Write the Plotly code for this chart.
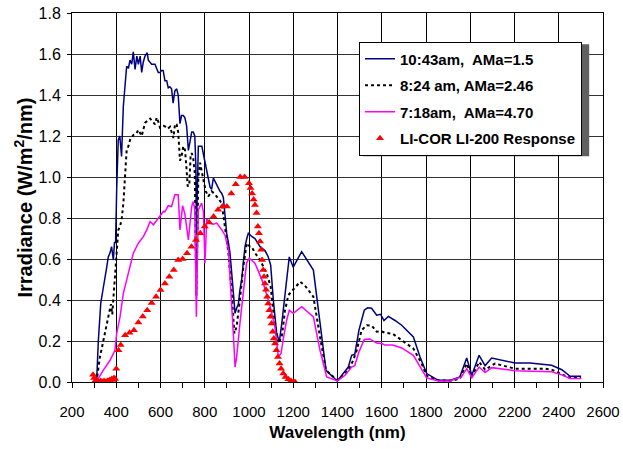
import plotly.graph_objects as go

# ---- data ----
wl_1043 = [305, 312, 319, 330, 340, 349, 357, 364, 372, 379, 387, 392, 397, 402, 409, 416, 424, 432, 440, 447,
           455, 462, 470, 477, 485, 493, 500, 508, 515, 522, 530, 540, 545, 560, 575, 590, 598, 605, 612, 620,
           628, 635, 642, 650, 657, 665, 673, 680, 688, 695, 703, 710, 718, 726, 733, 741, 748, 755, 760, 762,
           771, 779, 787, 796, 803, 809, 816, 824, 831, 839, 846, 854, 861, 869, 877, 884, 892, 899, 907, 914,
           922, 929, 937, 944, 952, 959, 967, 974, 982, 990, 997, 1005, 1012, 1027, 1050, 1073, 1087, 1098, 1110, 1125,
           1137, 1148, 1163, 1182, 1200, 1238, 1291, 1321, 1348, 1399, 1449, 1464, 1478, 1497, 1521, 1536, 1554, 1577, 1595, 1610,
           1630, 1660, 1690, 1743, 1773, 1803, 1856, 1908, 1953, 1984, 2007, 2040, 2067, 2097, 2202, 2270, 2368, 2414, 2451, 2501]
irr_1043 = [0.0, 0.02, 0.20, 0.385, 0.45, 0.50, 0.56, 0.61, 0.63, 0.66, 0.595, 0.68, 0.68, 0.94, 1.18, 1.20, 1.10, 1.345, 1.43, 1.54,
            1.53, 1.57, 1.55, 1.61, 1.525, 1.59, 1.55, 1.59, 1.51, 1.56, 1.59, 1.606, 1.57, 1.55, 1.55, 1.51, 1.51, 1.52, 1.52, 1.47,
            1.47, 1.435, 1.44, 1.43, 1.36, 1.42, 1.43, 1.40, 1.26, 1.30, 1.30, 1.29, 1.25, 1.13, 1.17, 1.22, 1.22, 1.20, 1.05, 0.72,
            1.15, 1.15, 1.15, 1.10, 1.06, 1.02, 0.98, 0.95, 0.94, 0.995, 0.98, 0.96, 0.95, 0.93, 0.92, 0.90, 0.81, 0.726, 0.68, 0.63,
            0.53, 0.43, 0.335, 0.36, 0.38, 0.45, 0.50, 0.58, 0.66, 0.70, 0.725, 0.718, 0.71, 0.70, 0.66, 0.64, 0.61, 0.57, 0.40, 0.237,
            0.196, 0.285, 0.43, 0.61, 0.56, 0.636, 0.546, 0.30, 0.057, 0.005, 0.073, 0.13, 0.135, 0.253, 0.35, 0.362, 0.36, 0.326, 0.33, 0.30,
            0.32, 0.30, 0.277, 0.22, 0.122, 0.041, 0.008, 0.008, 0.025, 0.117, 0.033, 0.13, 0.08, 0.117, 0.093, 0.093, 0.082, 0.06, 0.028, 0.028]

wl_0824 = [305, 312, 326, 341, 355, 364, 376, 382, 390, 397, 409, 417, 424, 432, 440, 447, 455, 462, 477, 490,
           500, 515, 530, 553, 575, 583, 590, 598, 613, 620, 632, 643, 658, 666, 673, 680, 688, 695, 703, 711,
           718, 723, 730, 736, 741, 748, 755, 762, 771, 779, 793, 805, 816, 831, 842, 854, 865, 877, 892, 907,
           922, 934, 944, 959, 974, 990, 1005, 1012, 1027, 1050, 1080, 1098, 1111, 1133, 1148, 1163, 1178, 1200, 1231, 1253,
           1291, 1321, 1348, 1399, 1449, 1471, 1487, 1509, 1532, 1555, 1577, 1598, 1615, 1650, 1690, 1743, 1780, 1803, 1856, 1908,
           1953, 1984, 2007, 2040, 2067, 2112, 2202, 2338, 2368, 2414, 2451, 2501]
irr_0824 = [0.0, 0.01, 0.12, 0.20, 0.27, 0.32, 0.38, 0.33, 0.45, 0.53, 0.74, 0.76, 0.79, 0.87, 1.00, 1.13, 1.15, 1.18, 1.205, 1.21,
            1.23, 1.20, 1.264, 1.285, 1.257, 1.29, 1.27, 1.24, 1.25, 1.247, 1.235, 1.245, 1.19, 1.26, 1.256, 1.22, 1.08, 1.10, 1.15, 1.13,
            1.035, 0.954, 0.96, 1.10, 1.117, 1.09, 1.02, 0.42, 1.00, 1.07, 0.99, 0.93, 0.905, 0.93, 0.92, 0.905, 0.89, 0.87, 0.76, 0.63,
            0.43, 0.237, 0.27, 0.40, 0.56, 0.677, 0.66, 0.66, 0.63, 0.595, 0.53, 0.465, 0.334, 0.188, 0.22, 0.35, 0.424, 0.449, 0.489, 0.47,
            0.416, 0.22, 0.057, 0.008, 0.057, 0.106, 0.155, 0.253, 0.277, 0.275, 0.245, 0.247, 0.24, 0.235, 0.204, 0.163, 0.09, 0.03, 0.008, 0.006,
            0.015, 0.09, 0.025, 0.098, 0.06, 0.09, 0.065, 0.065, 0.06, 0.04, 0.02, 0.02]

wl_0718 = [305, 315, 341, 372, 394, 402, 417, 432, 447, 462, 477, 500, 523, 538, 553, 568, 583, 598, 613, 620,
           635, 650, 665, 673, 680, 688, 700, 710, 726, 741, 748, 755, 762, 771, 786, 794, 801, 809, 824, 839,
           854, 877, 892, 907, 922, 930, 937, 944, 959, 971, 989, 1001, 1027, 1050, 1065, 1095, 1117, 1133, 1145, 1155,
           1170, 1182, 1200, 1238, 1291, 1321, 1351, 1400, 1434, 1464, 1478, 1497, 1521, 1546, 1565, 1577, 1600, 1615, 1650, 1690,
           1743, 1773, 1803, 1856, 1908, 1960, 1984, 2007, 2040, 2067, 2097, 2202, 2368, 2414, 2451, 2501]
irr_0718 = [0.0, 0.01, 0.057, 0.106, 0.155, 0.237, 0.318, 0.432, 0.497, 0.563, 0.628, 0.677, 0.71, 0.742, 0.783, 0.767, 0.79, 0.807, 0.832, 0.83,
            0.86, 0.856, 0.913, 0.913, 0.913, 0.742, 0.86, 0.82, 0.693, 0.856, 0.88, 0.84, 0.318, 0.84, 0.873, 0.83, 0.58, 0.795, 0.775, 0.77,
            0.775, 0.742, 0.715, 0.644, 0.40, 0.22, 0.073, 0.12, 0.286, 0.416, 0.58, 0.604, 0.58, 0.52, 0.48, 0.37, 0.27, 0.122, 0.14, 0.21,
            0.30, 0.35, 0.335, 0.367, 0.318, 0.155, 0.025, 0.005, 0.033, 0.073, 0.08, 0.147, 0.207, 0.21, 0.195, 0.19, 0.188, 0.18, 0.18, 0.166,
            0.13, 0.073, 0.02, 0.005, 0.005, 0.025, 0.065, 0.02, 0.073, 0.046, 0.07, 0.055, 0.05, 0.035, 0.017, 0.017]

wl_licor = [295, 300, 305, 310, 315, 320, 325, 330, 335, 340, 345, 350, 355, 360, 365, 370, 375, 380, 385, 390,
            395, 400, 410, 420, 440, 460, 480, 500, 520, 540, 560, 580, 600, 620, 640, 660, 680, 700, 720, 740,
            760, 780, 800, 820, 840, 860, 880, 900, 920, 940, 960, 980, 1000, 1007, 1014, 1021, 1027, 1034, 1040, 1045,
            1050, 1055, 1059, 1064, 1068, 1072, 1077, 1082, 1087, 1092, 1097, 1102, 1107, 1112, 1118, 1124, 1131, 1138, 1145, 1155,
            1165, 1178, 1190, 1200, 1208]
resp_licor = [0.035, 0.02, 0.005, 0.0, 0.005, 0.0, 0.0, 0.005, 0.0, 0.0, 0.005, 0.0, 0.0, 0.005, 0.0, 0.01, 0.005, 0.015, 0.01, 0.02,
              0.015, 0.065, 0.155, 0.18, 0.228, 0.24, 0.253, 0.29, 0.32, 0.35, 0.385, 0.416, 0.449, 0.48, 0.514, 0.546, 0.595, 0.60, 0.628, 0.66,
              0.693, 0.726, 0.758, 0.778, 0.807, 0.84, 0.856, 0.856, 0.92, 0.965, 1.0, 1.0, 0.97, 0.946, 0.92, 0.89, 0.864, 0.824, 0.758, 0.726,
              0.685, 0.645, 0.595, 0.546, 0.514, 0.481, 0.45, 0.416, 0.383, 0.35, 0.318, 0.285, 0.245, 0.212, 0.188, 0.155, 0.122, 0.09, 0.065, 0.041,
              0.025, 0.013, 0.005, 0.0, 0.0]

names = ["10:43am,  AMa=1.5", "8:24 am, AMa=2.46", "7:18am,  AMa=4.70", "LI-COR LI-200 Response"]
x_ticks = [200, 400, 600, 800, 1000, 1200, 1400, 1600, 1800, 2000, 2200, 2400, 2600]
y_ticks = [0.0, 0.2, 0.4, 0.6, 0.8, 1.0, 1.2, 1.4, 1.6, 1.8]

FONT = "Liberation Sans, Arial, sans-serif"

fig = go.Figure()
fig.add_trace(go.Scatter(x=wl_1043, y=irr_1043, mode="lines", name=names[0], legendgroup="a",
                         line=dict(color="#000080", width=1.5)))
fig.add_trace(go.Scatter(x=wl_0824, y=irr_0824, mode="lines", name=names[1], legendgroup="b",
                         line=dict(color="black", width=2, dash="dot")))
fig.add_trace(go.Scatter(x=wl_0718, y=irr_0718, mode="lines", name=names[2], legendgroup="c",
                         line=dict(color="#FF00FF", width=1.5)))
fig.add_trace(go.Scatter(x=wl_licor, y=resp_licor, mode="markers", name=names[3], legendgroup="d",
                         marker=dict(symbol="triangle-up", size=7, color="#FF0000", line=dict(width=0))))

# legend drop shadow (paper coordinates)
fig.add_shape(type="rect", xref="paper", yref="paper", layer="above",
              x0=0.548, x1=0.974, y0=0.612, y1=0.915,
              fillcolor="#606060", line=dict(width=0))

fig.update_layout(
    width=623, height=449,
    margin=dict(l=72, r=20, t=13, b=67),
    paper_bgcolor="white", plot_bgcolor="white",
    font=dict(family=FONT, size=14, color="black"),
    showlegend=True,
    legend=dict(x=0.5405, y=0.9226, xanchor="left", yanchor="top",
                bgcolor="white", bordercolor="black", borderwidth=1,
                font=dict(family=FONT, size=15, color="black", weight="bold"),
                tracegroupgap=4, itemwidth=30),
    xaxis=dict(range=[200, 2600], tickvals=x_ticks, ticktext=[str(v) for v in x_ticks],
               automargin=False, tickfont=dict(size=15),
               showgrid=True, gridcolor="black", gridwidth=1,
               showline=True, linecolor="black", linewidth=1, mirror=True,
               ticks="outside", ticklen=5, tickcolor="black", ticklabelstandoff=11,
               minor=dict(dtick=100, ticks="outside", ticklen=5, tickcolor="black", showgrid=False),
               zeroline=False,
               title=dict(text="Wavelength (nm)", font=dict(size=17, weight="bold"), standoff=7)),
    yaxis=dict(range=[0, 1.8], tickvals=y_ticks, ticktext=[f"{v:.1f}" for v in y_ticks],
               automargin=False, tickfont=dict(size=16),
               showgrid=True, gridcolor="#333333", gridwidth=1.2,
               showline=True, linecolor="black", linewidth=1, mirror=True,
               ticks="outside", ticklen=4, tickcolor="black", ticklabelstandoff=3,
               zeroline=False,
               title=dict(text="Irradiance (W/m<sup>2</sup>/nm)", font=dict(size=20, weight="bold"), standoff=0)),
)

fig.write_html("out.html")
